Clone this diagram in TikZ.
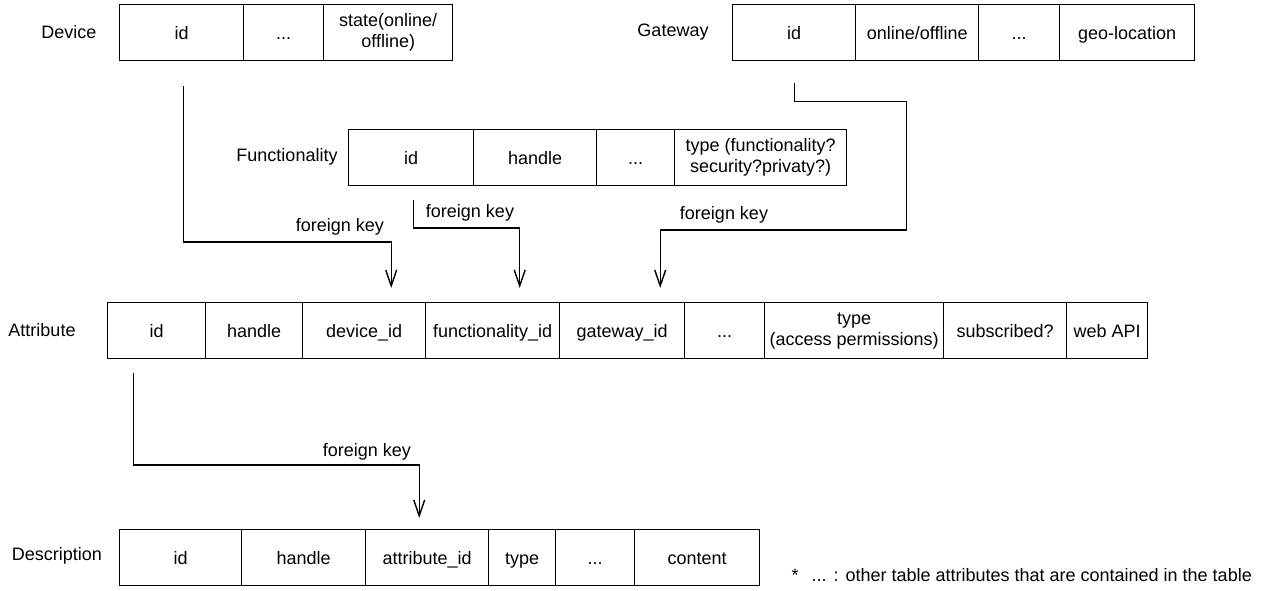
\documentclass[tikz,border=0pt]{standalone}
\usepackage{fontspec}
\setmainfont{Liberation Sans}
\usetikzlibrary{arrows.meta,calc}
\begin{document}
\begin{tikzpicture}[x=1pt,y=-1pt,
  every node/.style={font=\fontsize{18}{21}\selectfont},
  cell/.style={draw, line width=1.4, anchor=north west, minimum height=56,
    inner sep=0, align=center},
  cellone/.style={cell, text height=12.9, text depth=0},
  tname/.style={anchor=center},
  fklabel/.style={anchor=center},
  fk/.style={line width=1.4, -{Straight Barb[length=16,width=11,line width=1.4]}}]
\useasboundingbox (0,0) rectangle (1269,590);

% Device table
\node[tname] (dev) at (69,32) {Device};
\node[cellone, minimum width=124] (dev-id)    at (119,4) {id};
\node[cellone, minimum width=80]  (dev-dots)  at (243,4) {...};
\node[cell, minimum width=129]    (dev-state) at (323,4) {state(online/\\offline)};

% Gateway table
\node[tname] (gw) at (673,32) {Gateway};
\node[cellone, minimum width=123] (gw-id)     at (732,4)  {id};
\node[cellone, minimum width=123] (gw-online) at (855,4)  {online/offline};
\node[cellone, minimum width=81]  (gw-dots)   at (978,4)  {...};
\node[cellone, minimum width=135] (gw-geo)    at (1059,4) {geo-location};

% Functionality table
\node[tname] (fn) at (287,157) {Functionality};
\node[cellone, minimum width=125] (fn-id)     at (348,129) {id};
\node[cellone, minimum width=123] (fn-handle) at (473,129) {handle};
\node[cellone, minimum width=78]  (fn-dots)   at (596,129) {...};
\node[cell, minimum width=172]    (fn-type)   at (674,129) {type (functionality?\\security?privaty?)};

% Attribute table
\node[tname] (att) at (42,330) {Attribute};
\node[cellone, minimum width=98]  (att-id)     at (107,302)  {id};
\node[cellone, minimum width=97]  (att-handle) at (205,302)  {handle};
\node[cellone, minimum width=123] (att-dev)    at (302,302)  {device\_id};
\node[cellone, minimum width=134] (att-fn)     at (425,302)  {functionality\_id};
\node[cellone, minimum width=125] (att-gw)     at (559,302)  {gateway\_id};
\node[cellone, minimum width=80]  (att-dots)   at (684,302)  {...};
\node[cell, minimum width=179]    (att-type)   at (764,302)  {type\\(access permissions)};
\node[cellone, minimum width=123] (att-sub)    at (943,302)  {subscribed?};
\node[cellone, minimum width=81]  (att-web)    at (1066,302) {web API};

% Description table
\node[tname] (desc) at (57,556) {Description};
\node[cellone, minimum width=122] (desc-id)      at (119,529) {id};
\node[cellone, minimum width=124] (desc-handle)  at (241,529) {handle};
\node[cellone, minimum width=123] (desc-attr)    at (365,529) {attribute\_id};
\node[cellone, minimum width=67]  (desc-type)    at (488,529) {type};
\node[cellone, minimum width=79]  (desc-dots)    at (555,529) {...};
\node[cellone, minimum width=125] (desc-content) at (634,529) {content};

% foreign keys
\draw[fk] ($(dev-id.south)+(2,25)$) |- ($(att-dev.north)+(27,-60)$)
  -- ($(att-dev.north)+(27,-14)$);
\node[fklabel] (fk-dev) at (340,227) {foreign key};

\draw[fk] ($(fn-id.south)+(2,14)$) |- ($(att-fn.north)+(27,-74)$)
  -- ($(att-fn.north)+(27,-14)$);
\node[fklabel] (fk-fn) at (470,213) {foreign key};

\draw[fk] ($(gw-id.south)+(0,22)$) -- ++(0,18) -- ++(112,0)
  |- ($(att-gw.north)+(38,-72)$) -- ($(att-gw.north)+(38,-14)$);
\node[fklabel] (fk-gw) at (724,215) {foreign key};

\draw[fk] ($(att-id.south)+(-23,14)$) |- ($(desc-attr.north)+(-8,-64)$)
  -- ($(desc-attr.north)+(-8,-11)$);
\node[fklabel] (fk-att) at (367,452) {foreign key};

% footnote
\node[anchor=west] (note) at (788,575) {*\hspace{13pt}...\hspace{7pt}:\hspace{7pt}other table attributes that are contained in the table};
\end{tikzpicture}
\end{document}
